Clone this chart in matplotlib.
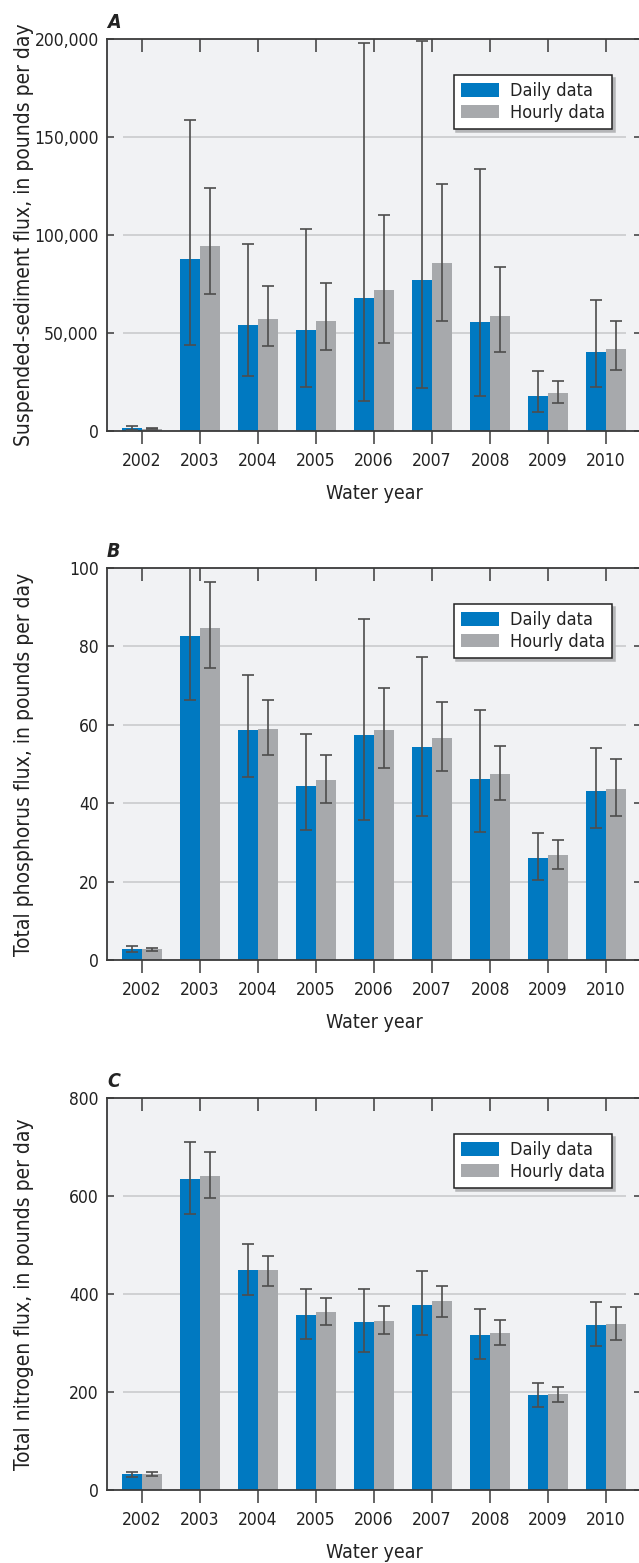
import numpy as np
import matplotlib
matplotlib.use('Agg')
from matplotlib import pyplot as plt

plt.rcParams['font.family'] = ['DejaVu Sans']
plt.rcParams['font.stretch'] = 'condensed'

years = ['2002', '2003', '2004', '2005', '2006', '2007', '2008', '2009', '2010']

# A - suspended sediment (lb/day)
sed_daily = [1500, 88000, 54200, 51700, 68000, 77200, 55800, 17900, 40400]
sed_daily_lo = [500, 43700, 28300, 22200, 15200, 21700, 17700, 9900, 22700]
sed_daily_hi = [2400, 158700, 95200, 102900, 198000, 198800, 133800, 30400, 66700]
sed_hourly = [1100, 94500, 57300, 56300, 72100, 85700, 58900, 19500, 42000]
sed_hourly_lo = [800, 70100, 43500, 41300, 44900, 56100, 40400, 14500, 30900]
sed_hourly_hi = [1500, 124000, 74200, 75400, 110400, 126200, 83700, 25300, 56000]

# B - total phosphorus (lb/day)
tp_daily = [2.8, 82.7, 58.6, 44.4, 57.4, 54.4, 46.2, 25.9, 43.1]
tp_daily_lo = [2.0, 66.3, 46.6, 33.2, 35.8, 36.8, 32.6, 20.3, 33.7]
tp_daily_hi = [3.6, 104.0, 72.7, 57.7, 87.0, 77.3, 63.7, 32.5, 54.0]
tp_hourly = [2.7, 84.8, 58.9, 46.0, 58.6, 56.7, 47.5, 26.7, 43.6]
tp_hourly_lo = [2.3, 74.4, 52.3, 40.0, 49.1, 48.1, 40.9, 23.1, 36.8]
tp_hourly_hi = [3.1, 96.4, 66.3, 52.4, 69.5, 65.9, 54.6, 30.5, 51.2]

# C - total nitrogen (lb/day)
tn_daily = [32, 635, 449, 357, 343, 377, 316, 194, 336]
tn_daily_lo = [27, 563, 397, 309, 282, 316, 268, 169, 293]
tn_daily_hi = [37, 711, 503, 411, 410, 446, 370, 218, 383]
tn_hourly = [33, 640, 449, 363, 345, 386, 320, 196, 338]
tn_hourly_lo = [29, 595, 417, 336, 318, 353, 295, 180, 306]
tn_hourly_hi = [36, 689, 478, 392, 375, 417, 346, 211, 373]

panels = [
    ('A', 'Suspended-sediment flux, in pounds per day', 200000, 50000, True,
     sed_daily, sed_daily_lo, sed_daily_hi, sed_hourly, sed_hourly_lo, sed_hourly_hi),
    ('B', 'Total phosphorus flux, in pounds per day', 100, 20, False,
     tp_daily, tp_daily_lo, tp_daily_hi, tp_hourly, tp_hourly_lo, tp_hourly_hi),
    ('C', 'Total nitrogen flux, in pounds per day', 800, 200, False,
     tn_daily, tn_daily_lo, tn_daily_hi, tn_hourly, tn_hourly_lo, tn_hourly_hi),
]

blue = '#0079c1'
gray = '#a7a9ac'
dark = '#3a3a3a'
ecol = '#4d4d4d'
txt = '#222222'

W, H = 639, 1563
fig = plt.figure(figsize=(W / 100, H / 100), dpi=100)

tops = [39, 568, 1098]
ax_h = 392
left_px, right_px = 107, 641

x = np.arange(len(years))
bw = 0.34

for (letter, ylab, ymax, ystep, commas, d, dlo, dhi, h, hlo, hhi), top in zip(panels, tops):
    ax = fig.add_axes([left_px / W, 1 - (top + ax_h) / H, (right_px - left_px) / W, ax_h / H])
    ax.set_facecolor('#f1f2f4')
    d = np.array(d, float)
    h = np.array(h, float)

    ticks = np.arange(0, ymax + 1, ystep)
    ax.hlines(ticks[1:-1], -0.33, 8.35, color='#c6c7c9', lw=1.1, zorder=1)

    ax.bar(x - bw / 2, d, bw, color=blue, label='Daily data', zorder=2)
    ax.bar(x + bw / 2, h, bw, color=gray, label='Hourly data', zorder=2)
    ax.errorbar(x - bw / 2, d, yerr=[d - np.array(dlo), np.array(dhi) - d], fmt='none',
                ecolor=ecol, elinewidth=1.2, capsize=4.5, capthick=1.2, zorder=3)
    ax.errorbar(x + bw / 2, h, yerr=[h - np.array(hlo), np.array(hhi) - h], fmt='none',
                ecolor=ecol, elinewidth=1.2, capsize=4.5, capthick=1.2, zorder=3)

    ax.set_xlim(-0.6, 8.6)
    ax.set_ylim(0, ymax)
    ax.set_xticks(x)
    ax.set_xticklabels(years)
    ax.set_yticks(ticks)
    if commas:
        ax.set_yticklabels(['{:,}'.format(int(t)) for t in ticks])
    ax.tick_params(axis='x', direction='out', length=9, width=1.1,
                   color=dark, labelsize=12.5, pad=6, top=True, labelcolor=txt)
    ax.tick_params(axis='y', direction='in', length=5, width=1.1, color=dark,
                   labelsize=12.5, pad=6, right=True, labelcolor=txt)
    # top ticks point down into the plot
    for t in ax.xaxis.get_major_ticks():
        t.tick2line.set_marker(3)
        t.tick2line.set_markersize(9)
    for s in ax.spines.values():
        s.set_color(dark)
        s.set_linewidth(1.3)

    ax.set_ylabel(ylab, fontsize=15, color=txt)
    ax.yaxis.set_label_coords(-0.137, 0.5)
    ax.set_xlabel('Water year', fontsize=14, labelpad=10, color=txt)
    ax.text(0.0, 1.018, letter, transform=ax.transAxes, fontsize=14,
            fontweight='bold', fontstyle='italic', ha='left', va='bottom', color=txt)

    leg = ax.legend(loc='upper right', bbox_to_anchor=(0.9457, 0.908), borderaxespad=0,
                    fancybox=False, framealpha=1, edgecolor=txt, fontsize=13,
                    handlelength=2.1, handleheight=0.75, handletextpad=0.6,
                    labelspacing=0.2, borderpad=0.4,
                    shadow={'color': '#b5b6b8', 'alpha': 1})
    leg.get_frame().set_linewidth(1.1)
    for t in leg.get_texts():
        t.set_color(txt)

fig.savefig('out.png', dpi=100)
